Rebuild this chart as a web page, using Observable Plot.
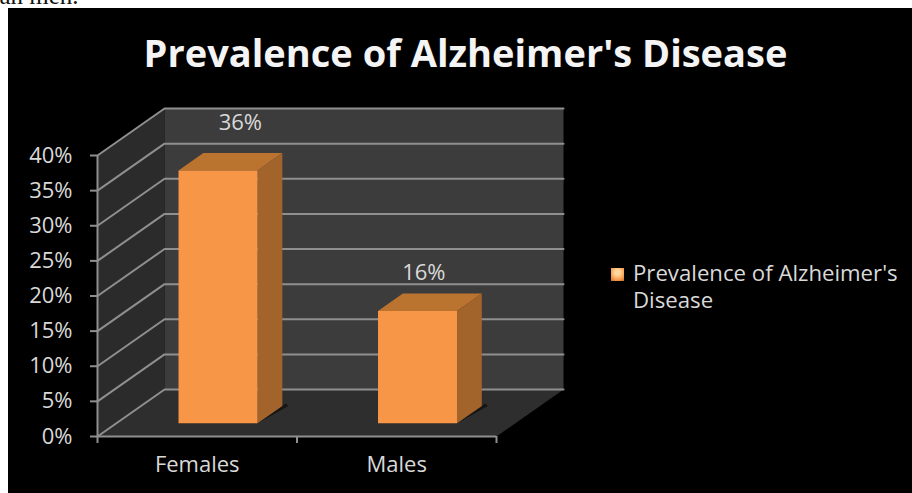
<!DOCTYPE html>
<html>
<head>
<meta charset="utf-8">
<script src="https://cdn.jsdelivr.net/npm/d3@7"></script>
<script src="https://cdn.jsdelivr.net/npm/@observablehq/plot@0.6"></script>
<style>
  html, body { margin: 0; background: #fff; }
  #page { position: relative; width: 912px; height: 493px; overflow: hidden; font-family: "Open Sans", sans-serif; }
  #lead { position: absolute; left: -20px; top: -18px; font: 25px "Liberation Serif", serif; color: #111; white-space: nowrap; }
  #panel { position: absolute; left: 8px; top: 8px; right: 0; bottom: 0; background: #000; }
  #chart { position: absolute; left: 0; top: 0; }
  #chart svg { display: block; background: transparent; }
  #title { position: absolute; left: 8px; width: 915px; top: 29px; text-align: center; color: #f4f4f4; font-weight: 700; font-size: 38px; line-height: 46px; white-space: nowrap; }
  #legend { position: absolute; left: 611px; top: 259px; color: #d9d9d9; font-size: 22.2px; line-height: 27px; }
  #legend i { position: absolute; left: 0; top: 9px; width: 13px; height: 13px; background: radial-gradient(circle at 50% 35%, #ffd79a 0 25%, #f79646 70%, #b9702c 100%); }
  #legend span { display: block; margin-left: 22px; white-space: nowrap; }
</style>
</head>
<body>
<div id="page">
  <div id="lead">than men.</div>
  <div id="panel"></div>
  <div id="chart"></div>
  <div id="title"></div>
  <div id="legend"></div>
</div>
<script>
const chartTitle = "Prevalence of Alzheimer's Disease";
const categories = ["Females", "Males"];
const prevalence = [36, 16];
const yTicks = [0, 5, 10, 15, 20, 25, 30, 35, 40];

// Oblique projection of the box: one unit of depth moves a point right and up.
const depthX = 0.336;   // category units
const depthY = 6.69;    // percentage points
const barHalf = 0.198;
const barFront = 0.28;
const barBack = 0.65;
const barCentre = 0.51;

const pt = (x, y, d = 0) => ({x: x + d * depthX, y: y + d * depthY});
const face = (corners, fill) =>
  Plot.line(corners.concat(corners[0]), {x: "x", y: "y", fill, stroke: "none", curve: "linear"});

const yMax = yTicks[yTicks.length - 1];
const gridColor = "#8f8f8f";
const wallMarks = [
  face([pt(0, 0), pt(0, yMax), pt(0, yMax, 1), pt(0, 0, 1)], "#2b2b2b"),
  face([pt(0, 0, 1), pt(0, yMax, 1), pt(2, yMax, 1), pt(2, 0, 1)], "#3c3c3c"),
  face([pt(0, 0), pt(0, 0, 1), pt(2, 0, 1), pt(2, 0)], "#2e2e2e")
];

// Each gridline runs up the side wall and then along the back wall.
const gridRows = yTicks.flatMap((v) => [pt(0, v), pt(0, v, 1), pt(2, v, 1)].map((p) => ({...p, v})));
const gridMarks = [
  Plot.line(gridRows, {x: "x", y: "y", z: "v", stroke: gridColor, strokeWidth: 2}),
  Plot.ruleX([0], {y1: 0, y2: yMax, stroke: gridColor, strokeWidth: 2})
];

const barMarks = prevalence.flatMap((value, i) => {
  const l = i + barCentre - barHalf, r = i + barCentre + barHalf;
  return [
    // Thin contact shadow on the floor beside the bar
    face([pt(r, 0, barFront), pt(r + 0.03, 0, barBack), pt(r, 0, barBack + 0.05)], "#151515"),
    face([pt(l, value, barFront), pt(l, value, barBack), pt(r, value, barBack), pt(r, value, barFront)], "#bb7430"),
    face([pt(r, 0, barFront), pt(r, value, barFront), pt(r, value, barBack), pt(r, 0, barBack)], "#a3642c"),
    face([pt(l, 0, barFront), pt(l, value, barFront), pt(r, value, barFront), pt(r, 0, barFront)], "#f79646")
  ];
});

const labelRows = prevalence.map((value, i) => ({...pt(i + barCentre + 0.016, value, barBack + 0.02), value, i}));

const plot = Plot.plot({
  width: 912,
  height: 493,
  marginLeft: 97,
  marginRight: 416,
  marginTop: 155,
  marginBottom: 57,
  style: {background: "transparent", fontFamily: "'Open Sans', sans-serif"},
  x: {domain: [0, 2]},
  y: {domain: [0, yMax]},
  marks: [
    ...wallMarks,
    ...gridMarks,
    ...barMarks,
    Plot.ruleY([0], {stroke: gridColor, strokeWidth: 2}),
    Plot.axisY({ticks: yTicks, tickSize: 7, tickPadding: 18, tickFormat: (d) => `${d}%`, label: null, stroke: gridColor, strokeWidth: 2, color: "#d9d9d9", fontSize: 22}),
    Plot.axisX({ticks: [0, 1, 2], tickSize: 7, tickFormat: () => "", label: null, stroke: gridColor, strokeWidth: 2}),
    Plot.axisX({ticks: [0.5, 1.5], tickSize: 0, tickPadding: 20, tickFormat: (d) => categories[Math.floor(d)], label: null, color: "#d9d9d9", fontSize: 22}),
    Plot.text(labelRows.filter((d) => d.i === 0), {x: "x", y: "y", text: (d) => `${d.value}%`, dx: -7, dy: -29, fill: "#d9d9d9", fontSize: 22}),
    Plot.text(labelRows.filter((d) => d.i === 1), {x: "x", y: "y", text: (d) => `${d.value}%`, dx: -23, dy: -20, fill: "#d9d9d9", fontSize: 22})
  ]
});

document.getElementById("chart").append(plot);
document.getElementById("title").textContent = chartTitle;
const legendBox = document.getElementById("legend");
legendBox.append(document.createElement("i"));
const legendText = document.createElement("span");
legendText.innerHTML = "Prevalence of Alzheimer's<br>Disease";
legendBox.append(legendText);
</script>
</body>
</html>
